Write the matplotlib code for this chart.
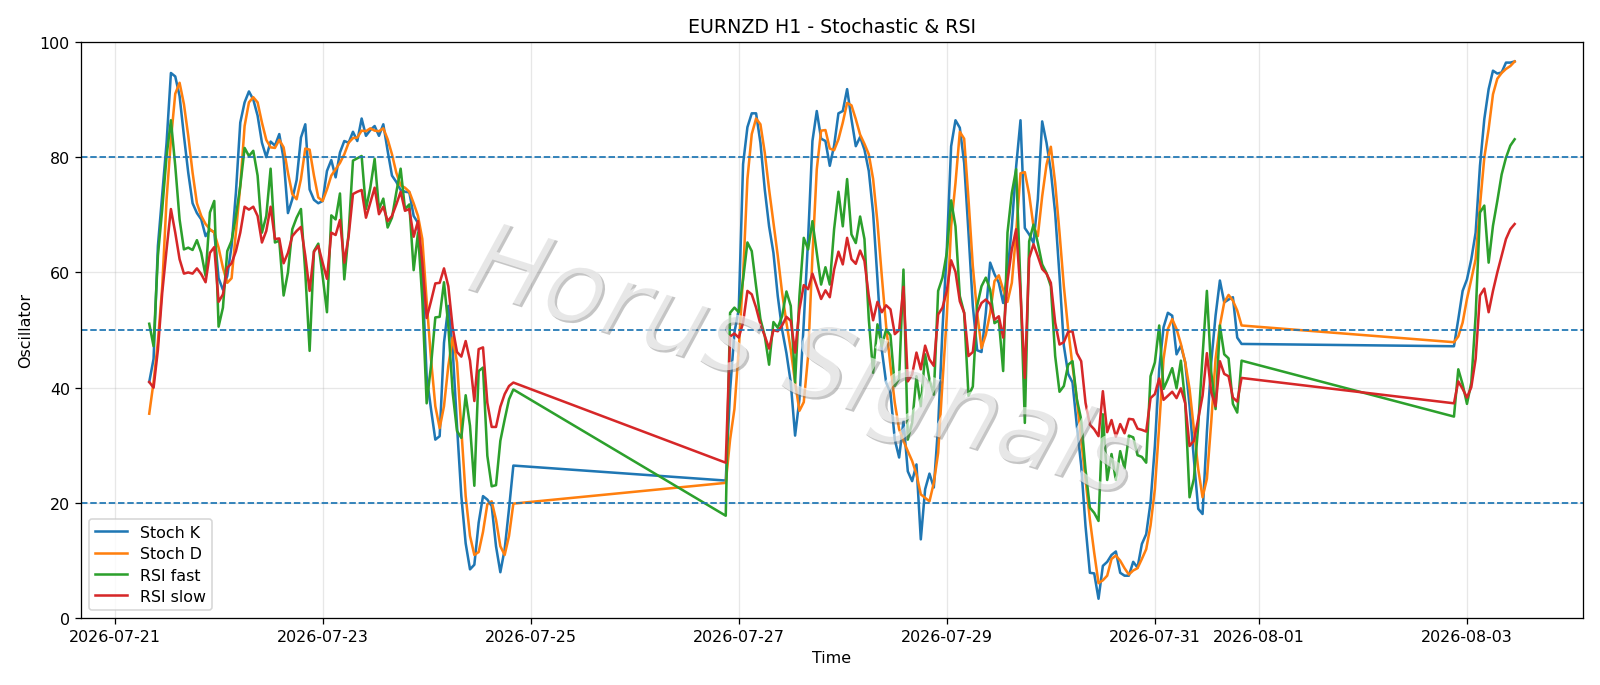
import matplotlib
matplotlib.use("Agg")
import matplotlib.pyplot as plt
import matplotlib.patheffects as pe
import pandas as pd

seg_starts = ["2026-07-21 08:00", "2026-07-26 21:00", "2026-08-02 21:00"]

k1 = [41,45,64.6,73.5,82.5,94.6,94,90.6,83.7,77.3,72,70.3,69.2,66.3,67.4,67,59,57,59.4,64.6,73.9,86,89.5,91.4,90,87.2,82.5,80,82.7,82,84,79.7,70.3,72.7,76,83.4,85.7,74.4,72.6,72,72.4,77.6,79.5,76.5,80.8,82.8,82.5,84.4,82.8,86.7,83.7,84.7,85.4,83.7,85.7,81.1,76.8,75.7,74.3,74,73.9,69.8,68.6,59.4,42,36.3,31,31.6,47.8,54.2,46.7,33.4,21.2,13,8.5,9.3,16.6,21.2,20.6,19.5,12.5,8,12,19,26.5]
d1 = [35.5,41,48,57.6,72.7,83,91,92.9,89.2,83.7,77.3,72,69.8,68.4,67.5,66.9,64.3,60.8,58.2,59,67,75,85.4,89.5,90.4,89.5,86,83,81.7,81.6,83,81.7,77.3,73.6,72.7,76.2,81.5,81.3,76.8,73,72.4,74.4,76.8,77.9,79,80.5,82.5,83.3,83.4,84.6,84.5,85,84.6,84.5,85,83.1,80.5,77.3,75.1,74.7,74,72,69.8,65.8,55,45,36.8,33,36.8,43.8,48.7,44.4,32.8,21.2,14.3,11,11.5,15,19.8,20.3,17.1,12.5,11,14.3,19.9]
g1 = [51.1,47.2,62.9,71,80.2,86.4,78.5,69.2,64,64.3,63.9,65.6,63.4,59.4,70.4,72.4,50.6,53.9,63.7,65.5,69.8,75,81.6,80.2,81.1,76.8,66.9,69.8,78,65.2,65.5,56,60,67.5,69.5,71,60,46.4,63.7,65,59.4,53.1,69.9,69.2,73.7,58.8,66.9,79.4,79.8,80.2,71,74.7,79.7,71,72.8,67.8,69.5,73.9,78,71,71.8,60.4,66.9,55.3,37.3,43.8,52.2,52.3,58.3,50.7,39.2,32.5,31.3,38.7,33.4,23,42.9,43.5,28.2,22.9,23.1,30.8,34.5,38,39.7]
r1 = [41,40,46.6,56.5,64,71,66.9,62.3,59.8,60,59.8,60.7,59.7,58.3,63.4,64.4,54.9,56.2,60.8,61.6,63.7,66.9,71.4,70.9,71.4,69.8,65.2,67.2,71.4,65.8,65.9,61.6,63.4,66.3,67.2,67.9,62.9,56.8,63.6,64.6,61.7,58.9,66.9,66.5,69.1,61.7,66.3,73.6,74,74.3,69.5,72.1,74.7,70.1,71.4,68.9,69.8,71.8,74,70.7,71,66.2,68.9,61.7,52.1,55,58.1,58.2,60.7,57.6,50.4,46.2,45.4,48.1,44.7,37.7,46.7,47,37.4,33.2,33.2,36.7,38.9,40.3,40.9]

k2 = [23.9,39.5,49.6,53.6,78.8,85.2,87.6,87.6,82.5,74.4,68,63.4,55.9,50.1,46,40.9,31.7,38,51.3,65.8,82.8,88,83.2,82.8,78.5,82,87.6,88,91.8,86.6,81.9,83.5,81.3,77.6,70.3,58.8,46.6,40.9,39.1,31,27.9,34.2,25.5,23.8,26.7,13.7,22.4,25.1,22.7,33.4,50.1,64,81.9,86.4,85.1,79,66.9,54.2,46.5,46.2,53,61.7,59.7,58.2,54.7,59.9,68,78.4,86.4,67.7,66.6,65.1,72.7,86.2,82.5,77.6,70.3,59.4,47.3,42.4,40.9,33.4,26.5,16,7.9,7.8,3.4,9.1,9.8,11,11.6,7.9,7.4,7.4,9.8,8.8,12.9,14.6,20.1,29.9,43.2,50.5,53,52.5,45.8,47.3,44.4,36.9,27.6,19,18.1,32.3,44.4,52.5,58.6,54.8,55.3,55.7,48.7,47.6]
d2 = [23.5,31,36.3,46.7,59.4,76.2,84,86.7,85.7,80.8,74.4,68.7,62.9,56.5,51.3,46.6,40.9,36,37.5,45.5,62.9,77.9,84.6,84.7,81.5,81.2,83.1,86,89.4,89,86.6,83.9,82.3,80.5,76.2,68.7,59.4,50.7,43.8,37.4,32.8,30.8,29,27.3,25,21.5,20.9,20.3,23.5,28.7,40.9,52.4,68,75.5,84.4,83.2,72.7,61.1,53,46.9,49.2,53,58.5,59.5,57,54.9,58.2,66.9,77.2,77.4,73.5,68,66.3,73.2,78.7,81.8,75.5,66.9,57.6,50.1,43.8,38,31,24.1,17.2,11.4,6.1,6.6,7.4,10.3,10.9,10,8.7,7.6,8.3,8.7,10.3,12,16.1,22.4,33.4,45,50.2,51.9,50.2,47.6,44.4,39.8,32.8,25.9,21,24.2,34,45,50.8,54.8,56.1,55.1,53.4,50.8]
g2 = [17.8,53,53.9,53.1,58.8,65.2,63.7,57.6,51.9,49,44,51.4,50.4,52.4,56.7,54.2,40.9,55.9,66,64,68.9,63.4,57.9,60.9,57.9,67.5,74,68,76.2,66.6,65.1,69.7,65.8,51.9,42.6,51,47.2,50.1,49.1,40.3,41.6,60.5,31,33.9,42,36.8,45.8,41.4,38.8,56.8,59.1,63.4,72.5,68,55.9,53,38.6,40.2,54.2,57.6,59.1,57,51.2,51.7,42.9,66.9,73.8,77.9,57.6,33.9,65.4,68.3,65.1,61.4,59.9,57.6,45.5,39.3,40.3,44,44.6,38,34.5,25.8,19.2,18.3,16.9,35.4,24,28.5,24,29,26,31.7,31.4,28.3,28,27,42,44.4,50.8,39.8,41.5,43.4,39.9,44.7,37.5,21,24.2,33.4,45.5,56.8,42.7,36.3,50.8,45.8,45.1,37.2,35.7,44.7]
r2 = [27,48.9,49.4,48.7,51.3,56.8,56.2,53.9,51,49,46.8,50,49.8,50.8,52.3,51.6,46.1,53.6,57.8,57.1,59.8,57.6,55.4,56.9,55.7,60.5,63.6,61.4,66,62.3,61.5,63.8,62,55.9,51.7,54.9,53.1,54.3,53.6,49.3,50,57.5,41.1,42.3,46.1,43.2,47.3,44.9,43.8,52.7,53.9,56.8,62.1,60.1,55,53,45.5,46.2,53,54.7,55.3,54.5,51.8,52.4,48.7,58.5,64,67.5,56.5,41.7,62.5,64.9,62.8,60.6,59.8,58.2,51.3,47.5,47.9,49.7,49.8,46,44.6,37.4,33.6,32.8,31.6,39.4,32.3,34.4,31.5,33.7,32.1,34.6,34.5,32.9,32.7,32.4,38.2,38.9,41.6,37.9,38.6,39.3,38.2,39.9,37.3,29.9,30.8,34.6,38.6,46,39.2,36.8,44.6,42.4,42,38.3,37.6,41.7]

k3 = [47.2,51.9,56.8,58.8,62.3,66.9,78.5,86.6,91.8,95,94.5,94.7,96.4,96.4,96.6]
d3 = [47.9,48.9,51.3,55.4,58.8,62.3,71.6,79.9,84.9,90.9,93.6,94.6,95.3,95.8,96.6]
g3 = [35,43.2,40.6,37.2,40.9,52.5,70.4,71.6,61.7,68.1,72.4,77,79.9,82,83.1]
r3 = [37.3,41.1,39.8,38.3,40.1,45,56,57.2,53.1,56.8,60,62.9,65.8,67.5,68.4]

levels = [20, 50, 80]
names = ["Stoch K", "Stoch D", "RSI fast", "RSI slow"]

times = pd.DatetimeIndex([])
for s, n in zip(seg_starts, (len(k1), len(k2), len(k3))):
    times = times.append(pd.date_range(s, periods=n, freq="h"))
series = [k1 + k2 + k3, d1 + d2 + d3, g1 + g2 + g3, r1 + r2 + r3]

fig, ax = plt.subplots(figsize=(14, 6), dpi=114.3)
for name, vals in zip(names, series):
    ax.plot(times, vals, label=name, lw=1.6)
for lv in levels:
    ax.axhline(lv, ls="--", lw=1.1)
ax.set_ylim(0, 100)
ax.set_title("EURNZD H1 - Stochastic & RSI")
ax.set_xlabel("Time", labelpad=3.6)
ax.set_ylabel("Oscillator")
ax.grid(alpha=0.3)
ax.legend(loc="lower left", labelspacing=0.4)
fig.subplots_adjust(left=0.0506, right=0.9892, top=0.9378, bottom=0.0972)
fig.text(463 / 1600, 1 - 288 / 686, "Horus Signals", fontsize=64, color="white", alpha=0.6,
         style="italic", ha="left", va="baseline",
         rotation=-17.5, rotation_mode="anchor",
         path_effects=[pe.SimplePatchShadow(offset=(1.5, -1.5), shadow_rgbFace="#707070", alpha=0.4), pe.Normal()])
fig.savefig("out.png", dpi=114.3)
